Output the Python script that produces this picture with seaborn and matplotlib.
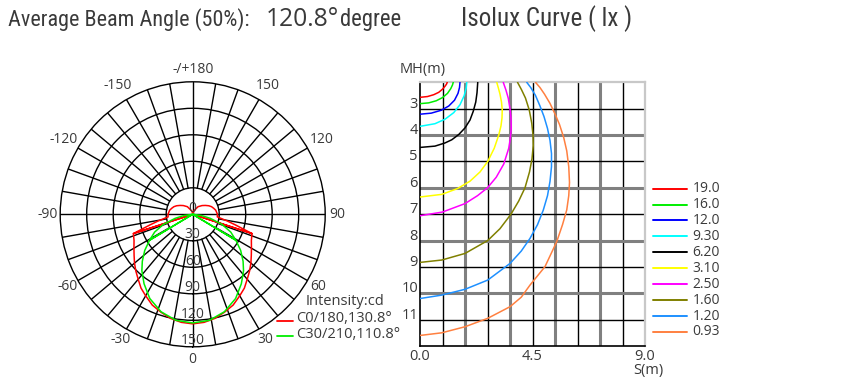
import numpy as np
import pandas as pd
import matplotlib
matplotlib.use("Agg")
import matplotlib.pyplot as plt
import seaborn as sns
from matplotlib import font_manager
from matplotlib.lines import Line2D

# ---------------- data ----------------
ring_values = [0, 30, 60, 90, 120, 150]
angle_ticks = [0, 30, 60, 90, 120, 150, 180, -150, -120, -90, -60, -30]
angle_labels = ["0", "30", "60", "90", "120", "150", "-/+180",
                "-150", "-120", "-90", "-60", "-30"]

c0_angle = [180, 165, 155, 145, 133, 125, 118, 112, 106, 100, 90, 84,
            79, 76, 72, 72, 72,
            66, 60, 55, 50, 45, 40, 35, 30, 24, 18, 12, 6, 0,
            -6, -12, -18, -24, -30, -35, -40, -45, -50, -55, -60, -66,
            -72, -72, -72, -76, -79, -84,
            -90, -100, -106, -112, -118, -125, -133, -145, -155, -165, -180]
c0_cd = [1, 3.5, 5.5, 10.5, 14.5, 17.5, 20.6, 23, 24.7, 26.5, 28, 28,
         40, 50, 70.6, 0, 70.6,
         72.7, 76.8, 81, 86, 91, 96, 102, 106.5, 112.5, 116.5, 120.5, 123, 124,
         123, 120.5, 116.5, 112.5, 106.5, 102, 96, 91, 86, 81, 76.8, 72.7,
         70.6, 0, 70.6, 50, 40, 28,
         28, 26.5, 24.7, 23, 20.6, 17.5, 14.5, 10.5, 5.5, 3.5, 1]

c30_angle = [88, 82, 77, 71, 65, 59, 59, 59, 53, 47, 42, 35, 27, 18, 9, 0,
             -9, -18, -27, -35, -42, -47, -53, -59, -59, -59, -65, -71, -77, -82, -88]
c30_cd = [0, 10, 20.5, 35, 47.5, 57, 0, 57, 68, 78, 86, 96, 107, 116, 121.5, 123,
          121.5, 116, 107, 96, 86, 78, 68, 57, 0, 57, 47.5, 35, 20.5, 10, 0]

polar_names = ["C0/180,130.8°", "C30/210,110.8°"]
polar_colors = ["#ff0000", "#00ee00"]

lux_levels = ["19.0", "16.0", "12.0", "9.30", "6.20", "3.10", "2.50", "1.60", "1.20", "0.93"]
lux_colors = ["#ff0000", "#00ee00", "#0000ff", "#00ffff", "#000000",
              "#ffff00", "#ff00ff", "#808000", "#1e90ff", "#ff8040"]

lux_19_s = [0.0, 0.3, 0.55, 0.75, 0.9, 1.0, 1.06, 1.09]
lux_19_mh = [2.57, 2.54, 2.47, 2.38, 2.26, 2.15, 2.07, 2.0]
lux_16_s = [0.0, 0.35, 0.65, 0.9, 1.1, 1.23, 1.3, 1.33]
lux_16_mh = [2.81, 2.78, 2.70, 2.58, 2.42, 2.24, 2.1, 2.0]
lux_12_s = [0.0, 0.45, 0.85, 1.15, 1.38, 1.52, 1.58, 1.6]
lux_12_mh = [3.21, 3.17, 3.06, 2.9, 2.68, 2.42, 2.2, 2.0]
lux_93_s = [0.0, 0.6, 1.0, 1.35, 1.6, 1.77, 1.85, 1.87]
lux_93_mh = [3.67, 3.57, 3.4, 3.15, 2.85, 2.5, 2.2, 2.0]
lux_62_s = [0.0, 0.6, 1.0, 1.27, 1.55, 1.8, 2.0, 2.13, 2.23, 2.28, 2.31]
lux_62_mh = [4.47, 4.42, 4.3, 4.18, 3.98, 3.73, 3.43, 3.10, 2.75, 2.4, 2.0]
lux_31_s = [0.0, 0.87, 1.5, 2.0, 2.4, 2.71, 2.97, 3.15, 3.24, 3.28, 3.29, 3.26, 3.2, 3.13, 3.07]
lux_31_mh = [6.35, 6.25, 6.03, 5.75, 5.4, 5.0, 4.5, 4.0, 3.65, 3.35, 3.05, 2.75, 2.45, 2.2, 2.0]
lux_25_s = [0.0, 0.9, 1.8, 2.3, 2.7, 3.05, 3.35, 3.55, 3.61, 3.65, 3.64, 3.6, 3.53, 3.44, 3.33]
lux_25_mh = [7.06, 6.92, 6.6, 6.3, 6.0, 5.6, 5.1, 4.5, 4.15, 3.75, 3.35, 3.0, 2.6, 2.3, 2.0]
lux_16b_s = [0.0, 0.87, 1.8, 2.71, 3.2, 3.64, 3.95, 4.2, 4.38, 4.48, 4.53, 4.52, 4.47,
             4.37, 4.22, 4.06, 3.9]
lux_16b_mh = [8.83, 8.74, 8.49, 8.0, 7.55, 7.0, 6.5, 6.0, 5.4, 4.9, 4.4, 4.0, 3.55,
              3.05, 2.6, 2.28, 2.0]
lux_12b_s = [0.0, 0.87, 1.8, 2.71, 3.6, 4.05, 4.4, 4.7, 4.93, 5.1, 5.2, 5.26, 5.26,
             5.2, 5.1, 4.96, 4.8, 4.62, 4.43, 4.27]
lux_12b_mh = [10.2, 10.07, 9.85, 9.5, 8.87, 8.4, 7.92, 7.4, 6.85, 6.3, 5.76, 5.2, 4.7,
              4.2, 3.75, 3.3, 2.9, 2.5, 2.2, 2.0]
lux_093_s = [0.0, 0.87, 1.8, 2.71, 3.6, 4.05, 4.4, 5.0, 5.47, 5.7, 5.87, 5.95, 5.98,
             5.95, 5.87, 5.75, 5.58, 5.4, 5.2, 4.98, 4.8, 4.62]
lux_093_mh = [11.6, 11.5, 11.27, 10.95, 10.51, 10.15, 9.69, 8.99, 8.04, 7.4, 6.84, 6.3, 5.8,
              5.2, 4.6, 4.1, 3.6, 3.2, 2.8, 2.45, 2.2, 2.0]

lux_s = [lux_19_s, lux_16_s, lux_12_s, lux_93_s, lux_62_s,
         lux_31_s, lux_25_s, lux_16b_s, lux_12b_s, lux_093_s]
lux_mh = [lux_19_mh, lux_16_mh, lux_12_mh, lux_93_mh, lux_62_mh,
          lux_31_mh, lux_25_mh, lux_16b_mh, lux_12b_mh, lux_093_mh]

mh_ticks = [3, 4, 5, 6, 7, 8, 9, 10, 11]
s_ticks = [0.0, 4.5, 9.0]
s_ticklabels = ["0.0", "4.5", "9.0"]

# ---------------- style ----------------
sns.set_style("white")
avail = {f.name for f in font_manager.fontManager.ttflist}
base_font = "Open Sans" if "Open Sans" in avail else "DejaVu Sans"
plt.rcParams["font.family"] = [base_font, "DejaVu Sans"]
title_font = next((f for f in ["Liberation Sans Narrow", "Roboto Condensed",
                               "Open Sans Condensed"] if f in avail), base_font)
TXT = "#3a3a3a"

W, H = 852, 386
fig = plt.figure(figsize=(W / 100, H / 100), dpi=100)
fig.patch.set_facecolor("white")


def fx(x):
    return x / W


def fy(y):
    return 1 - y / H


# ---------------- polar intensity plot ----------------
cx, cy, R = 192.7, 214.3, 132.5
axp = fig.add_axes([fx(cx - R), fy(cy + R), 2 * R / W, 2 * R / H], projection="polar")
axp.set_theta_zero_location("S")
axp.set_theta_direction(1)
axp.set_ylim(0, 150)
axp.set_yticks([30, 60, 90, 120])
axp.set_yticklabels([])
axp.set_xticks([])
axp.yaxis.grid(True, color="black", lw=1.0)
axp.xaxis.grid(False)
axp.spines["polar"].set_color("black")
axp.spines["polar"].set_linewidth(1.0)
for a in range(0, 360, 10):
    r0 = 0 if a % 90 == 0 else 30
    axp.plot([np.deg2rad(a)] * 2, [r0, 150], color="black", lw=1.0, zorder=1)

sns.lineplot(x=np.deg2rad(c0_angle), y=c0_cd, ax=axp, sort=False, estimator=None,
             color=polar_colors[0], lw=1.1, zorder=3)
sns.lineplot(x=np.deg2rad(c30_angle), y=c30_cd, ax=axp, sort=False, estimator=None,
             color=polar_colors[1], lw=1.1, zorder=3)
axp.set_xlabel("")
axp.set_ylabel("")
axp.set_ylim(0, 150)

ring_px_off = 6.0 / (R / 150)
for v in ring_values:
    if v == 0:
        axp.text(np.pi, ring_px_off, "0", ha="center", va="center", fontsize=10, color=TXT, zorder=4)
    else:
        axp.text(0, v - ring_px_off, str(v), ha="center", va="center", fontsize=10, color=TXT, zorder=4)

for a, lab in zip(angle_ticks, angle_labels):
    rr = 169 if abs(a) in (120, 150) else 164
    axp.text(np.deg2rad(a), rr, lab, ha="center", va="center", fontsize=10, color=TXT)

# polar legend
fig.text(fx(306), fy(301.5), "Intensity:cd", ha="left", va="center", fontsize=10.5, color=TXT)
for i, (nm, col) in enumerate(zip(polar_names, polar_colors)):
    yy = 319 + 15.5 * i
    fig.add_artist(Line2D([fx(277), fx(293)], [fy(yy + 1.5), fy(yy + 1.5)], color=col, lw=1.3))
    fig.text(fx(296.5), fy(yy), nm, ha="left", va="center", fontsize=10.5, color=TXT)

# ---------------- isolux plot ----------------
axl = fig.add_axes([fx(420), fy(346), 225 / W, (346 - 82.3) / H])
axl.set_xlim(0, 9)
axl.set_ylim(12, 2)
axl.set_xticks([])
axl.set_yticks([])
for i in range(1, 10):
    s = 0.9 * i
    if i % 2 == 1:
        axl.axvline(s, color="black", lw=1.0, zorder=1)
    else:
        axl.axvline(s, color="#808080", lw=2.2, zorder=1)
for mh in mh_ticks:
    if mh % 2 == 1:
        axl.axhline(mh, color="black", lw=1.0, zorder=1)
    else:
        axl.axhline(mh, color="#808080", lw=2.2, zorder=1)
for sp in ["left", "bottom"]:
    axl.spines[sp].set_color("black")
    axl.spines[sp].set_linewidth(1.2)
for sp in ["top", "right"]:
    axl.spines[sp].set_color("#c8c8c8")
    axl.spines[sp].set_linewidth(1.6)

rows = []
for lev, ss, mm in zip(lux_levels, lux_s, lux_mh):
    for k, (s, m) in enumerate(zip(ss, mm)):
        rows.append({"level": lev, "S": s, "MH": m, "order": k})
df = pd.DataFrame(rows)
sns.lineplot(data=df, x="S", y="MH", hue="level", hue_order=lux_levels,
             palette=dict(zip(lux_levels, lux_colors)), sort=False, estimator=None,
             lw=1.1, legend=False, ax=axl, zorder=3)
axl.set_xlabel("")
axl.set_ylabel("")
axl.set_xlim(0, 9)
axl.set_ylim(12, 2)

for mh in mh_ticks:
    axl.text(-0.08, mh - 0.17, str(mh), ha="right", va="center", fontsize=10.5, color=TXT,
             clip_on=False)
for s, lab in zip(s_ticks, s_ticklabels):
    fig.text(fx(420 + s * 25), fy(356.5), lab, ha="center", va="center", fontsize=10.5, color=TXT)
fig.text(fx(648), fy(370.5), "S(m)", ha="center", va="center", fontsize=10.5, color=TXT)
fig.text(fx(422.5), fy(70), "MH(m)", ha="center", va="center", fontsize=10.5, color=TXT)

# isolux legend
leg_y = [188.7, 204.7, 220.3, 236.3, 252.3, 268, 284, 300, 316, 331.7]
for lev, col, yy in zip(lux_levels, lux_colors, leg_y):
    fig.add_artist(Line2D([fx(652.5), fx(686.5)], [fy(yy), fy(yy)], color=col, lw=1.4))
    fig.text(fx(692.5), fy(yy), lev, ha="left", va="center", fontsize=10, color=TXT)

# ---------------- titles ----------------
renderer = fig.canvas.get_renderer()


def fit_text(x0, x1, ybase, s, size, family):
    t = fig.text(fx(x0), fy(ybase), s, ha="left", va="baseline", fontsize=size,
                 color=TXT, family=family)
    w = t.get_window_extent(renderer=renderer).width
    t.set_fontsize(size * (x1 - x0) / w)
    return t


fit_text(8, 248, 26, "Average Beam Angle (50%):", 13, [title_font, "DejaVu Sans"])
fit_text(266, 339, 26, "120.8°", 13, [base_font, "DejaVu Sans"])
fit_text(340, 401, 26, "degree", 13, [title_font, "DejaVu Sans"])
fit_text(461, 632, 26, "Isolux Curve ( lx )", 15, [title_font, "DejaVu Sans"])

fig.savefig("out.png", dpi=100, facecolor="white")
